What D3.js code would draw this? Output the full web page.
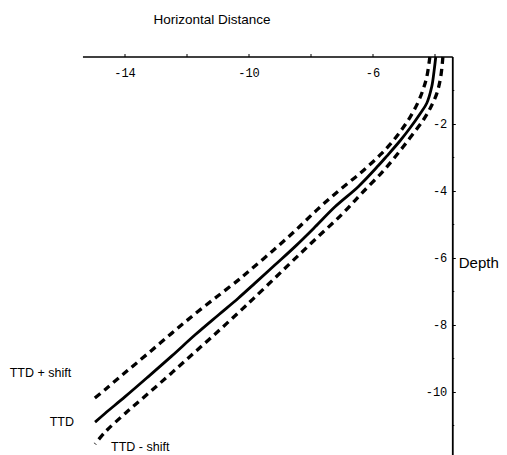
<!DOCTYPE html>
<html>
<head>
<meta charset="utf-8">
<script src="https://cdn.jsdelivr.net/npm/d3@7"></script>
<style>
  body { margin: 0; background: #fff; }
  svg { display: block; }
</style>
</head>
<body>
<div id="chart"></div>
<script>
// horizontal distance / depth pairs
const ttd = [
  [-3.96, 0], [-4.01, -0.39], [-4.09, -0.89], [-4.25, -1.38], [-4.47, -1.70],
  [-4.79, -2.12], [-5.11, -2.50], [-5.54, -2.96], [-5.81, -3.24], [-6.46, -3.87],
  [-7.21, -4.47], [-7.85, -5.07], [-8.50, -5.66], [-9.15, -6.21], [-9.79, -6.75],
  [-10.33, -7.20], [-10.97, -7.70], [-11.73, -8.30], [-12.48, -8.93], [-13.23, -9.54],
  [-13.98, -10.14], [-14.63, -10.64], [-14.95, -10.90]
];
const ttdPlus = [
  [-4.15, 0], [-4.25, -0.60], [-4.36, -0.95], [-4.52, -1.33], [-4.79, -1.80],
  [-5.06, -2.17], [-5.38, -2.55], [-5.73, -2.90], [-6.35, -3.43], [-7.10, -4.00],
  [-7.80, -4.57], [-8.50, -5.19], [-9.25, -5.81], [-10.01, -6.41], [-10.33, -6.66],
  [-10.97, -7.12], [-11.73, -7.67], [-12.48, -8.25], [-13.23, -8.84], [-13.98, -9.42],
  [-14.63, -9.93], [-15.01, -10.22]
];
const ttdMinus = [
  [-3.73, 0], [-3.80, -0.60], [-3.93, -1.10], [-4.15, -1.55], [-4.36, -1.88],
  [-4.68, -2.28], [-5.01, -2.68], [-5.33, -3.05], [-5.70, -3.45], [-6.35, -4.07],
  [-6.99, -4.70], [-7.75, -5.36], [-8.50, -6.02], [-9.15, -6.60], [-9.85, -7.22],
  [-10.22, -7.54], [-10.97, -8.18], [-11.73, -8.81], [-12.48, -9.43], [-13.23, -10.04],
  [-13.98, -10.64], [-14.63, -11.20], [-14.95, -11.55]
];
const xTicks = [-14, -12, -10, -8, -6, -4];
const xLabels = [-14, -10, -6];
const yTicks = [-2, -4, -6, -8, -10];
const yMinor = [-1, -3, -5, -7, -9, -11];

const width = 507, height = 455;

const svg = d3.select("#chart").append("svg")
  .attr("width", width)
  .attr("height", height);

const x = d3.scaleLinear().domain([-14, -6]).range([124.5, 372.5]);
const y = d3.scaleLinear().domain([0, -10]).range([57, 392]);

const xMin = -15.34, xMax = -3.41, yMin = -11.9;

// axis lines
svg.append("line")
  .attr("x1", x(xMin)).attr("x2", x(xMax))
  .attr("y1", y(0)).attr("y2", y(0))
  .attr("stroke", "#000").attr("stroke-width", 1.6);
svg.append("line")
  .attr("x1", x(xMax)).attr("x2", x(xMax))
  .attr("y1", y(0)).attr("y2", y(yMin))
  .attr("stroke", "#000").attr("stroke-width", 1.8);

// top axis: ticks up, labels below
const xAxis = d3.axisBottom(x)
  .tickValues(xTicks)
  .tickSizeInner(-3)
  .tickSizeOuter(0)
  .tickPadding(11.5)
  .tickFormat(d => xLabels.includes(d) ? "-" + Math.abs(d) : "");
const gx = svg.append("g")
  .attr("transform", `translate(0,${y(0)})`)
  .call(xAxis);
gx.select(".domain").remove();
gx.selectAll("text")
  .style("font-family", "'Liberation Mono', 'DejaVu Sans Mono', monospace")
  .style("font-size", "12px")
  .attr("fill", "#000");

// right axis: ticks to the right, labels to the left
const yAxis = d3.axisLeft(y)
  .tickValues(yTicks)
  .tickSizeInner(-3)
  .tickSizeOuter(0)
  .tickPadding(5.5)
  .tickFormat(d => "-" + Math.abs(d));
const gy = svg.append("g")
  .attr("transform", `translate(${x(xMax)},0)`)
  .call(yAxis);
gy.select(".domain").remove();
gy.selectAll("text")
  .style("font-family", "'Liberation Mono', 'DejaVu Sans Mono', monospace")
  .style("font-size", "12px")
  .attr("fill", "#000");

svg.append("g").selectAll("line")
  .data(yMinor)
  .enter().append("line")
  .attr("x1", x(xMax)).attr("x2", x(xMax) + 1.5)
  .attr("y1", d => y(d)).attr("y2", d => y(d))
  .attr("stroke", "#000").attr("stroke-width", 1);

// curves
const line = d3.line()
  .x(d => x(d[0]))
  .y(d => y(d[1]))
  .curve(d3.curveCatmullRom);

svg.append("path")
  .datum(ttdPlus)
  .attr("d", line)
  .attr("fill", "none")
  .attr("stroke", "#000")
  .attr("stroke-width", 3.3)
  .attr("stroke-dasharray", "7,5");

svg.append("path")
  .datum(ttdMinus)
  .attr("d", line)
  .attr("fill", "none")
  .attr("stroke", "#000")
  .attr("stroke-width", 3.3)
  .attr("stroke-dasharray", "7,5");

svg.append("path")
  .datum(ttd)
  .attr("d", line)
  .attr("fill", "none")
  .attr("stroke", "#000")
  .attr("stroke-width", 2.8);

// titles and curve labels
const sans = "'Liberation Sans', Arial, sans-serif";

svg.append("text")
  .attr("x", 212).attr("y", 24)
  .attr("text-anchor", "middle")
  .style("font-family", sans).style("font-size", "13.5px")
  .text("Horizontal Distance");

svg.append("text")
  .attr("x", x(xMax) + 6).attr("y", y(-6) + 10)
  .style("font-family", sans).style("font-size", "15px")
  .text("Depth");

const endPlus = ttdPlus[ttdPlus.length - 1];
const endTtd = ttd[ttd.length - 1];
const endMinus = ttdMinus[ttdMinus.length - 1];

svg.append("text")
  .attr("x", x(endPlus[0]) - 22).attr("y", y(endPlus[1]) - 22)
  .attr("text-anchor", "end")
  .style("font-family", sans).style("font-size", "12.5px")
  .text("TTD + shift");

svg.append("text")
  .attr("x", x(endTtd[0]) - 21).attr("y", y(endTtd[1]) + 4)
  .attr("text-anchor", "end")
  .style("font-family", sans).style("font-size", "12.5px")
  .text("TTD");

svg.append("text")
  .attr("x", x(endMinus[0]) + 16).attr("y", y(endMinus[1]) + 7)
  .style("font-family", sans).style("font-size", "12.5px")
  .text("TTD - shift");
</script>
</body>
</html>
